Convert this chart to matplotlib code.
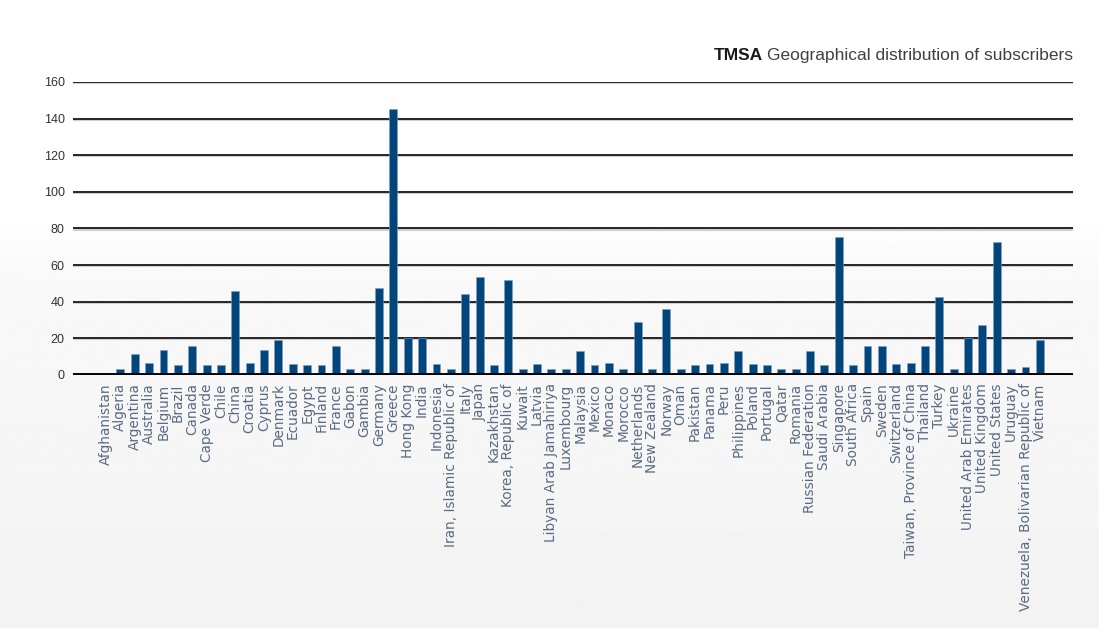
import numpy as np
import matplotlib
matplotlib.use('Agg')
import matplotlib.pyplot as plt

countries = ['Afghanistan', 'Algeria', 'Argentina', 'Australia', 'Belgium', 'Brazil',
             'Canada', 'Cape Verde', 'Chile', 'China', 'Croatia', 'Cyprus', 'Denmark',
             'Ecuador', 'Egypt', 'Finland', 'France', 'Gabon', 'Gambia', 'Germany',
             'Greece', 'Hong Kong', 'India', 'Indonesia', 'Iran, Islamic Republic of',
             'Italy', 'Japan', 'Kazakhstan', 'Korea, Republic of', 'Kuwait', 'Latvia',
             'Libyan Arab Jamahiriya', 'Luxembourg', 'Malaysia', 'Mexico', 'Monaco',
             'Morocco', 'Netherlands', 'New Zealand', 'Norway', 'Oman', 'Pakistan',
             'Panama', 'Peru', 'Philippines', 'Poland', 'Portugal', 'Qatar', 'Romania',
             'Russian Federation', 'Saudi Arabia', 'Singapore', 'South Africa', 'Spain',
             'Sweden', 'Switzerland', 'Taiwan, Province of China', 'Thailand', 'Turkey',
             'Ukraine', 'United Arab Emirates', 'United Kingdom', 'United States',
             'Uruguay', 'Venezuela, Bolivarian Republic of', 'Vietnam']

subscribers = [0, 3.5, 11.5, 6.7, 13.6, 5.3,
               15.8, 5.3, 5.3, 45.8, 6.7, 13.6, 19.1,
               6, 5.3, 5.3, 15.8, 3.5, 3.5, 47.3,
               145, 20.4, 20.4, 6, 3.5,
               44.2, 53.5, 5.3, 51.8, 3.5, 6,
               3.5, 3.5, 12.9, 5.3, 6.7,
               3.5, 28.7, 3.5, 35.8, 3.5, 5.3,
               6, 6.7, 12.9, 6, 5.3, 3.5, 3.5,
               12.9, 5.3, 75.6, 5.3, 15.8,
               15.8, 6, 6.7, 15.8, 42.5,
               3.5, 20.4, 27.3, 72.4,
               3.5, 4.5, 19.1]

yticks = [0, 20, 40, 60, 80, 100, 120, 140, 160]

fig = plt.figure(figsize=(10.99, 6.28), dpi=100)

# soft background gradient
bg = fig.add_axes([0, 0, 1, 1], zorder=-10)
grad = np.ones((256, 1))
grad[:, 0] = np.concatenate([np.linspace(0.95, 0.975, 140), np.linspace(0.975, 1.0, 30), np.ones(86)])
bg.imshow(grad, aspect='auto', cmap='gray', vmin=0, vmax=1, extent=[0, 1, 0, 1], origin='lower')
bg.axis('off')

ax = fig.add_axes([0.0664, 0.4029, 0.9099, 0.4666])
ax.patch.set_alpha(0)
x = np.arange(len(countries))

for v in yticks[1:]:
    ax.axhline(v - 0.6, color='#cfcfcf', lw=1.5, zorder=1)
    ax.axhline(v, color='#262626', lw=1.4, zorder=2)

ax.bar(x, subscribers, width=0.55, color='#00457c', edgecolor='#7f9fc0', linewidth=0.4, zorder=3)
ax.axhline(0, color='black', lw=2.8, zorder=4)

ax.set_xlim(-2.3, 67.3)
ax.set_ylim(0, 160)
ax.set_yticks(yticks)
ax.set_yticklabels([str(t) for t in yticks], fontsize=9, color='#333333',
                   family=['Liberation Sans', 'DejaVu Sans'])
ax.set_xticks(x)
ax.set_xticklabels(countries, rotation=90, fontsize=9.8, color='#5a6a82')
ax.tick_params(axis='both', length=0, pad=6)
for s in ax.spines.values():
    s.set_visible(False)

fam = ['Liberation Sans', 'DejaVu Sans']
sub = fig.text(0.9765, 0.905, 'Geographical distribution of subscribers', fontsize=12.5,
               color='#404040', family=fam, ha='right', va='baseline')
fig.canvas.draw()
bb = sub.get_window_extent().transformed(fig.transFigure.inverted())
fig.text(bb.x0 - 0.004, 0.905, 'TMSA', fontsize=12.5, fontweight='bold', color='#1a1a1a',
         family=fam, ha='right', va='baseline')

fig.savefig('out.png', dpi=100)
